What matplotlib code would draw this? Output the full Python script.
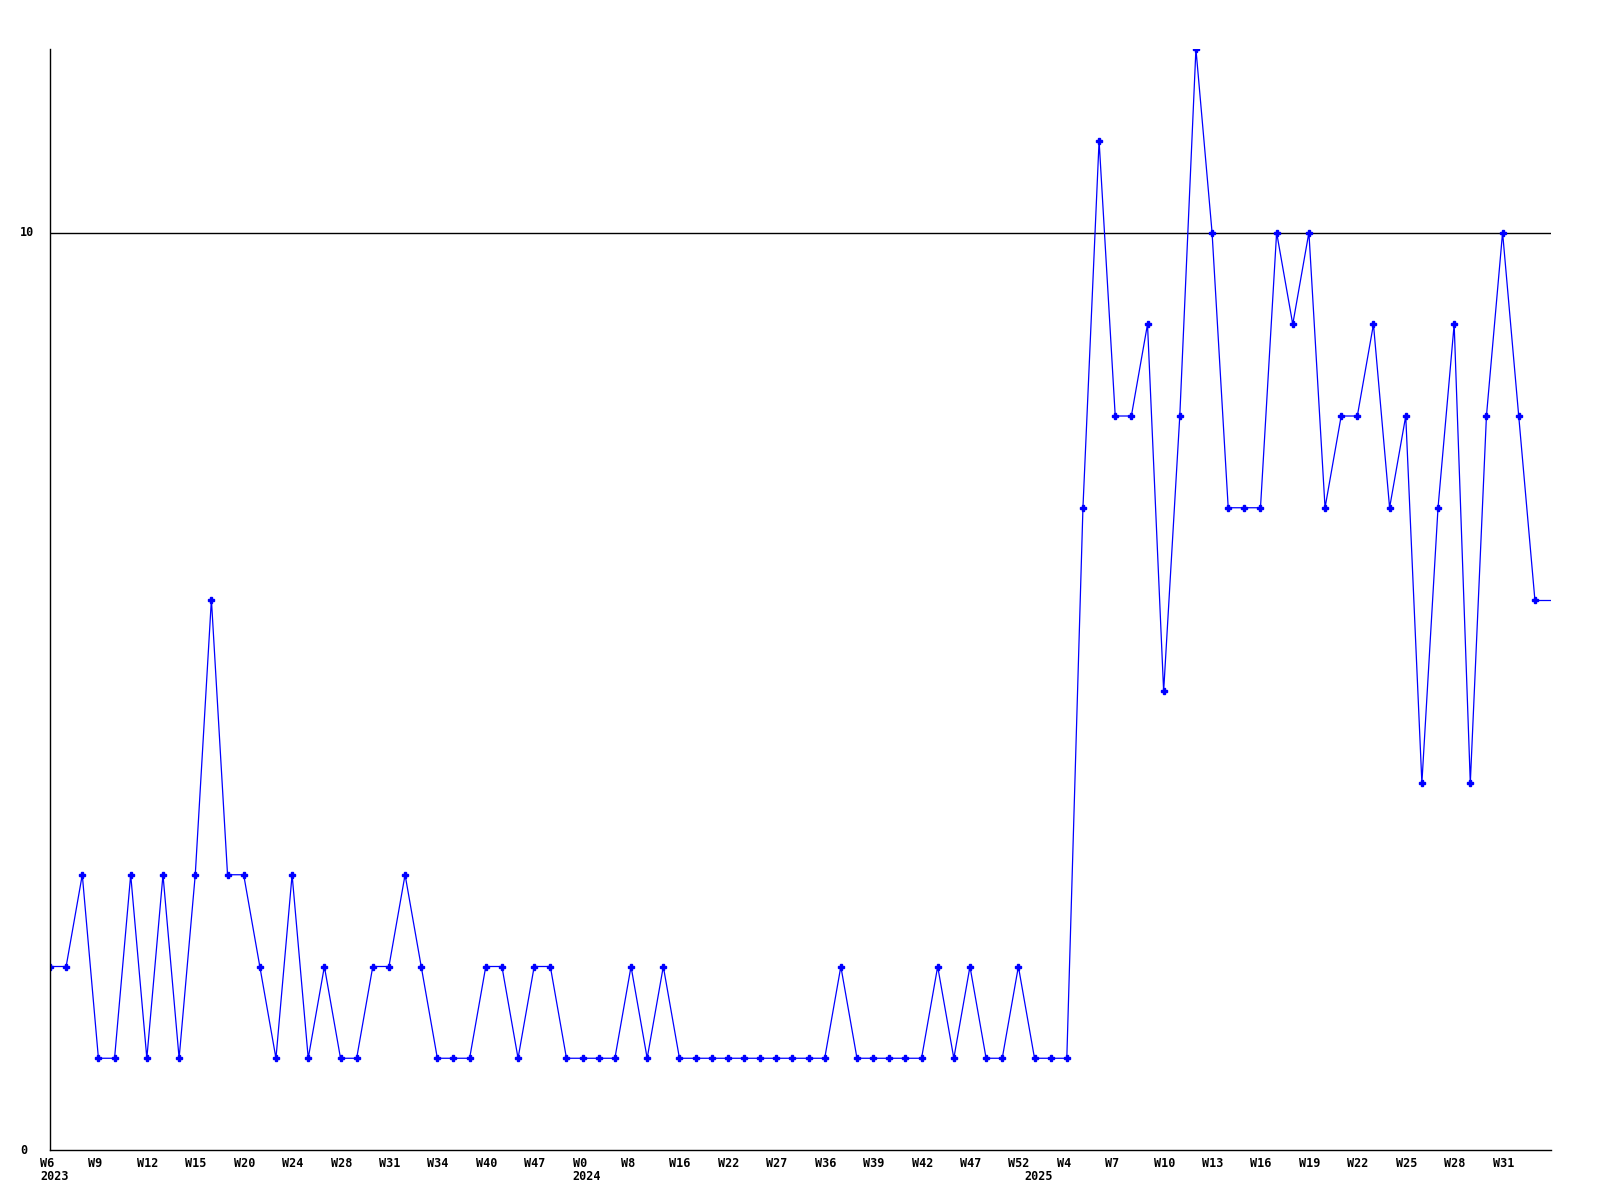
import numpy as np
import matplotlib
matplotlib.use('Agg')
import matplotlib.pyplot as plt
import matplotlib.transforms as mtransforms

# weekly values, 2023 W6 .. 2025 W33
values = [2, 2, 3, 1, 1, 3, 1, 3, 1, 3, 6, 3, 3, 2, 1, 3, 1, 2, 1, 1,
          2, 2, 3, 2, 1, 1, 1, 2, 2, 1, 2, 2, 1, 1, 1, 1, 2, 1, 2, 1,
          1, 1, 1, 1, 1, 1, 1, 1, 1, 2, 1, 1, 1, 1, 1, 2, 1, 2, 1, 1,
          2, 1, 1, 1, 7, 11, 8, 8, 9, 5, 8, 12, 10, 7, 7, 7, 10, 9, 10, 7,
          8, 8, 9, 7, 8, 4, 7, 9, 4, 8, 10, 8, 6]

# x labels, one every 3 points
week_labels = ["W6", "W9", "W12", "W15", "W20", "W24", "W28", "W31", "W34", "W40",
               "W47", "W0", "W8", "W16", "W22", "W27", "W36", "W39", "W42", "W47",
               "W52", "W4", "W7", "W10", "W13", "W16", "W19", "W22", "W25", "W28", "W31"]
label_step = 3

# year labels and the point they sit under
year_labels = ["2023", "2024", "2025"]
year_pos = [0, 33, 61]

y_ticks = [0, 10]
y_max = 12
threshold = 10

font = {'family': 'DejaVu Sans Mono', 'weight': 'bold', 'size': 8.5}

fig = plt.figure(figsize=(16, 12), dpi=100)
ax = fig.add_axes([50/1600, 50/1200, 1501/1600, 1101/1200])

x = np.arange(len(values))
x_end = len(values)

ax.plot(x, values, c='#0000ff', lw=0.9, marker='P', ms=4, mec='#0000ff', mfc='#0000ff')
# last value carried on to the right edge
ax.plot([x[-1], x_end], [values[-1], values[-1]], c='#0000ff', lw=0.9)
ax.axhline(threshold, c='black', lw=1.0, zorder=1)

ax.set_xlim(0, x_end)
ax.set_ylim(0, y_max)

for side in ['top', 'right']:
    ax.spines[side].set_visible(False)
for side in ['left', 'bottom']:
    ax.spines[side].set_linewidth(1.0)
    ax.spines[side].set_color('black')

# x ticks: week labels, left aligned a little before the point
shift = mtransforms.ScaledTranslation(-10/100, 0, fig.dpi_scale_trans)
ax.set_xticks(np.arange(len(week_labels)) * label_step)
ax.set_xticklabels(week_labels, fontdict=font)
ax.tick_params(axis='x', length=0, pad=5)
for lbl in ax.get_xticklabels():
    lbl.set_ha('left')
    lbl.set_transform(lbl.get_transform() + shift)

# year labels on a second row
year_trans = mtransforms.blended_transform_factory(ax.transData, ax.transAxes)
year_shift = mtransforms.ScaledTranslation(-10/100, -27/100, fig.dpi_scale_trans)
for pos, yr in zip(year_pos, year_labels):
    ax.text(pos, 0, yr, transform=year_trans + year_shift, ha='left', va='center',
            fontdict=font, clip_on=False)

# y labels drawn as text, left aligned near the figure edge
ax.set_yticks([])
ylab_trans = mtransforms.blended_transform_factory(fig.transFigure, ax.transData)
for v in y_ticks:
    ax.text(20/1600, v, str(v), transform=ylab_trans, ha='left', va='center',
            fontdict=font, clip_on=False)

fig.savefig('out.png', dpi=100)
